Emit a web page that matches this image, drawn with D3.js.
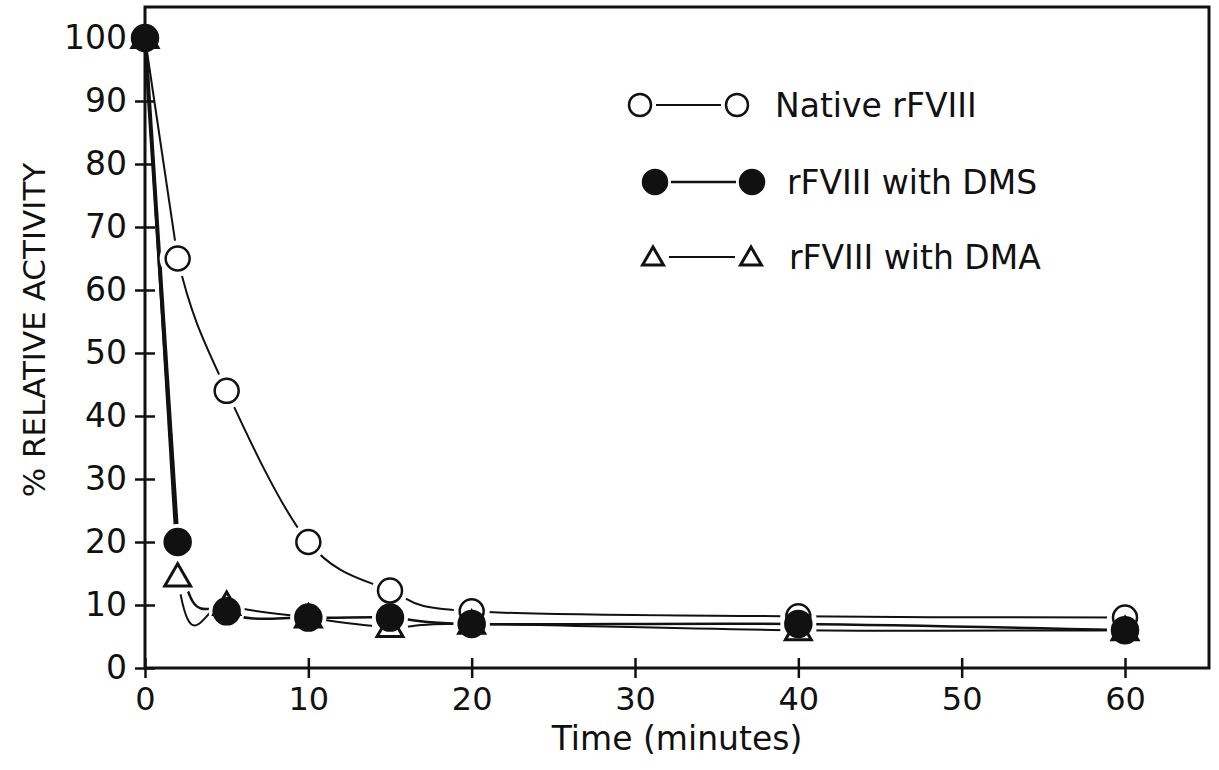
<!DOCTYPE html>
<html>
<head>
  <script type="text/javascript" src="https://cdn.jsdelivr.net/npm/d3@7"></script>
  <style>
    body { margin: 0; background: #fff; }
    text { font-family: "DejaVu Sans", sans-serif; fill: #111; }
  </style>
</head>
<body>
  <div id="chart"></div>
  <script type="text/javascript">
    var w = 1219;
    var h = 770;

    // data
    var times = [0, 2, 5, 10, 15, 20, 40, 60];
    var nativeVals = [100, 65, 44, 20, 12.3, 9, 8.2, 8];
    var dmsVals = [100, 20, 9, 8, 8, 7, 7, 6];
    var dmaVals = [100, 14.5, 10, 8, 6.5, 7, 6, 6];
    var xTicks = [0, 10, 20, 30, 40, 50, 60];
    var yTicks = [0, 10, 20, 30, 40, 50, 60, 70, 80, 90, 100];
    var legendLabels = ["Native rFVIII", "rFVIII with DMS", "rFVIII with DMA"];

    var svg = d3.select("#chart")
      .append("svg")
      .attr("width", w)
      .attr("height", h);

    var xScale = d3.scaleLinear().domain([0, 60]).range([145, 1125]);
    var yScale = d3.scaleLinear().domain([0, 100]).range([668, 38]);

    // frame
    svg.append("rect")
      .attr("x", 145).attr("y", 7)
      .attr("width", 1209 - 145).attr("height", 668 - 7)
      .attr("fill", "none").attr("stroke", "#111").attr("stroke-width", 3);

    // axes, ticks cross the line
    var xAxis = d3.axisBottom(xScale).tickValues(xTicks).tickSize(10).tickPadding(9);
    var gx = svg.append("g")
      .attr("transform", "translate(0,668)")
      .call(xAxis);
    gx.select(".domain").remove();
    gx.selectAll(".tick line").attr("y1", -10).attr("stroke", "#111").attr("stroke-width", 2.5);
    gx.selectAll(".tick text").attr("font-size", 32).attr("font-family", "DejaVu Sans").attr("fill", "#111");

    var yAxis = d3.axisLeft(yScale).tickValues(yTicks).tickSize(10).tickPadding(8);
    var gy = svg.append("g")
      .attr("transform", "translate(145,0)")
      .call(yAxis);
    gy.select(".domain").remove();
    gy.selectAll(".tick line").attr("x1", 10).attr("stroke", "#111").attr("stroke-width", 2.5);
    gy.selectAll(".tick text").attr("font-size", 33).attr("font-family", "DejaVu Sans").attr("fill", "#111");

    svg.append("text")
      .attr("x", 677).attr("y", 750)
      .attr("text-anchor", "middle")
      .attr("font-size", 33)
      .text("Time (minutes)");

    svg.append("text")
      .attr("transform", "translate(45,330) rotate(-90)")
      .attr("text-anchor", "middle")
      .attr("font-size", 31)
      .text("% RELATIVE ACTIVITY");

    var series = [
      { vals: nativeVals, kind: "open", width: 2 },
      { vals: dmaVals, kind: "tri", width: 2 },
      { vals: dmsVals, kind: "filled", width: 4 }
    ];

    var curveLine = d3.line()
      .x(function(d) { return xScale(d[0]); })
      .y(function(d) { return yScale(d[1]); })
      .curve(d3.curveCatmullRom.alpha(0));
    var straight = d3.line()
      .x(function(d) { return xScale(d[0]); })
      .y(function(d) { return yScale(d[1]); });

    // curves only to the right of t=2, first drop is straight
    svg.append("clipPath").attr("id", "after2")
      .append("rect")
      .attr("x", xScale(times[1])).attr("y", 0)
      .attr("width", w).attr("height", h);

    series.forEach(function(s) {
      var pts = times.map(function(t, i) { return [t, s.vals[i]]; });
      svg.append("path")
        .datum(pts.slice(0, 2))
        .attr("fill", "none")
        .attr("stroke", "#111")
        .attr("stroke-width", s.width)
        .attr("d", straight);
      svg.append("path")
        .datum(pts)
        .attr("clip-path", "url(#after2)")
        .attr("fill", "none")
        .attr("stroke", "#111")
        .attr("stroke-width", s.kind === "filled" ? 2.5 : 2)
        .attr("d", curveLine);
    });

    var tri = d3.symbol().type(d3.symbolTriangle).size(290);
    var triSmall = d3.symbol().type(d3.symbolTriangle).size(190);

    // white halos so lines stop short of the markers (not at t=0)
    series.forEach(function(s) {
      svg.append("g").selectAll("circle")
        .data(times.map(function(t, i) { return [t, s.vals[i]]; }).slice(1))
        .enter().append("circle")
        .attr("cx", function(d) { return xScale(d[0]); })
        .attr("cy", function(d) { return yScale(d[1]); })
        .attr("r", 18)
        .attr("fill", "#fff");
    });

    function drawMarker(g, kind, x, y, small) {
      if (kind === "tri") {
        g.append("path")
          .attr("d", small ? triSmall() : tri())
          .attr("transform", "translate(" + x + "," + (y + 2) + ")")
          .attr("fill", "#fff").attr("stroke", "#111").attr("stroke-width", 3);
      } else {
        g.append("circle")
          .attr("cx", x).attr("cy", y)
          .attr("r", kind === "open" ? (small ? 11 : 12) : (small ? 12 : 13))
          .attr("fill", kind === "open" ? "#fff" : "#111")
          .attr("stroke", "#111").attr("stroke-width", 2.5);
      }
    }

    var marks = svg.append("g");
    series.forEach(function(s) {
      times.forEach(function(t, i) {
        drawMarker(marks, s.kind, xScale(t), yScale(s.vals[i]), false);
      });
    });

    // legend
    var legendRows = [
      { kind: "open", x1: 640, x2: 737, y: 105, tx: 775 },
      { kind: "filled", x1: 655, x2: 752, y: 182, tx: 787 },
      { kind: "tri", x1: 653, x2: 751, y: 257, tx: 789 }
    ];
    var lg = svg.append("g");
    legendRows.forEach(function(r, i) {
      lg.append("line")
        .attr("x1", r.x1 + 16).attr("x2", r.x2 - 16)
        .attr("y1", r.y).attr("y2", r.y)
        .attr("stroke", "#111").attr("stroke-width", r.kind === "filled" ? 2.5 : 1.8);
      drawMarker(lg, r.kind, r.x1, r.y, true);
      drawMarker(lg, r.kind, r.x2, r.y, true);
      lg.append("text")
        .attr("x", r.tx).attr("y", r.y + 12)
        .attr("font-size", 33)
        .text(legendLabels[i]);
    });
  </script>
</body>
</html>
